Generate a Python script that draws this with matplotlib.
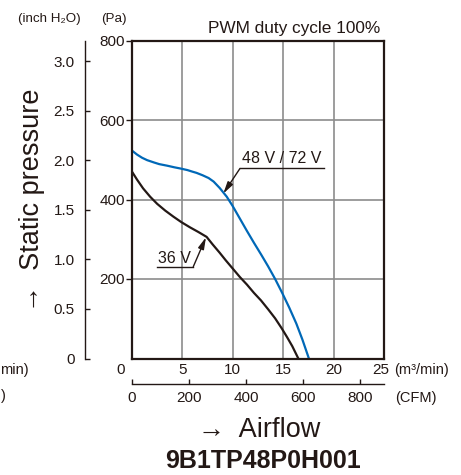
import matplotlib
matplotlib.use("Agg")
import matplotlib.pyplot as plt
from matplotlib.transforms import ScaledTranslation

plt.rcParams['font.family'] = ['Liberation Sans', 'DejaVu Sans']

# ---- data ----
blue_x = [0, 0.5, 1.0, 1.5, 2.2, 2.7, 3.5, 4.2, 4.8, 5.5, 6.0, 6.4, 7.0, 7.6, 8.1,
          8.7, 9.4, 10.0, 10.7, 11.4, 12.1, 12.8, 13.5, 14.2, 14.9, 15.6, 16.3,
          16.9, 17.55]
blue_p = [523, 513, 505, 499, 493, 489, 485, 481, 478, 474, 470, 467, 461, 454, 445,
          429, 407, 383, 352, 321, 291, 262, 232, 200, 165, 128, 88,
          48, 0]
black_x = [0, 0.5, 1.1, 1.8, 2.5, 3.3, 4.1, 4.9, 5.75, 6.6, 7.4, 8.0, 8.7, 9.3,
           10.0, 10.7, 11.4, 12.1, 12.8, 13.5, 14.2, 14.85, 15.4, 15.9, 16.5]
black_p = [470, 450, 428, 407, 389, 372, 357, 343, 330, 318, 306, 287, 266, 247,
           226, 205, 186, 165, 146, 124, 101, 76, 53, 31, 0]
x_ticks = [0, 5, 10, 15, 20, 25]
pa_ticks = [200, 400, 600, 800]
inch_ticks = [0, 0.5, 1.0, 1.5, 2.0, 2.5, 3.0]
cfm_ticks = [0, 200, 400, 600, 800]
label_blue = "48 V / 72 V"
label_black = "36 V"
PA_PER_INCH = 249.09
CFM_PER_M3 = 35.3147

W, H = 461, 475
DARK = '#231815'
BLUE = '#0068B7'
GRID = '#8c8c8c'

fig = plt.figure(figsize=(W / 100, H / 100), dpi=100)

def fx(px):
    return px / W

def fy(py):
    return 1 - py / H

ax = fig.add_axes([fx(132), fy(358.5), 252 / W, 318 / H])
ax.set_xlim(0, 25)
ax.set_ylim(0, 800)
for s in ax.spines.values():
    s.set_color(DARK)
    s.set_linewidth(1.6)
    s.set_zorder(5)
for v in x_ticks[1:-1]:
    ax.axvline(v, color=GRID, lw=1.2, zorder=1)
for v in pa_ticks[:-1]:
    ax.axhline(v, color=GRID, lw=1.2, zorder=1)

ax.plot(black_x, black_p, color=DARK, lw=1.6, zorder=3, solid_capstyle='butt',
        solid_joinstyle='round')
ax.plot(blue_x, blue_p, color=BLUE, lw=1.6, zorder=3, solid_capstyle='butt',
        solid_joinstyle='round')

# Pa axis
ax.set_yticks(pa_ticks)
ax.set_yticklabels([str(v) for v in pa_ticks])
ax.tick_params(axis='y', direction='out', length=4.3, width=1.0, color=DARK,
               pad=1.0, labelsize=11, labelcolor=DARK)
# m3/min axis
ax.set_xticks(x_ticks)
ax.set_xticklabels([str(v) for v in x_ticks])
ax.tick_params(axis='x', length=0, pad=3.5, labelsize=11, labelcolor=DARK)
lbl0 = ax.get_xticklabels()[0]
lbl0.set_transform(lbl0.get_transform() + ScaledTranslation(-11 / 100, 0, fig.dpi_scale_trans))
lbl25 = ax.get_xticklabels()[-1]
lbl25.set_transform(lbl25.get_transform() + ScaledTranslation(-3 / 100, 0, fig.dpi_scale_trans))

# inch H2O axis
ax_in = ax.twinx()
ax_in.set_ylim(0, 800 / PA_PER_INCH)
for k in ['right', 'top', 'bottom']:
    ax_in.spines[k].set_visible(False)
ax_in.spines['left'].set_visible(True)
ax_in.spines['left'].set_position(('outward', 47 * 0.72))
ax_in.spines['left'].set_color(DARK)
ax_in.spines['left'].set_linewidth(1.0)
ax_in.yaxis.set_ticks_position('left')
ax_in.set_yticks(inch_ticks)
ax_in.set_yticklabels(['0' if v == 0 else f'{v:.1f}' for v in inch_ticks])
ax_in.tick_params(axis='y', direction='in', length=3.8, width=1.0, color=DARK,
                  pad=7.5, labelsize=11, labelcolor=DARK)

# CFM axis
sec = ax.secondary_xaxis(-25.5 / 318, functions=(lambda m: m * CFM_PER_M3,
                                                   lambda c: c / CFM_PER_M3))
sec.set_xticks(cfm_ticks)
sec.set_xticklabels([str(v) for v in cfm_ticks])
sec.tick_params(axis='x', direction='in', length=3.8, width=1.0, color=DARK,
                pad=5.0, labelsize=11, labelcolor=DARK)
sec.spines['bottom'].set_color(DARK)
sec.spines['bottom'].set_linewidth(1.0)

# annotations
ax.text(10.88, 492, label_blue, fontsize=11.5, color=DARK, ha='left', va='baseline', zorder=6)
ax.plot([10.71, 19.0], [478, 478], color=DARK, lw=1.0, zorder=4)
ax.annotate('', xy=(9.06, 415), xytext=(10.71, 478),
            arrowprops=dict(arrowstyle='-|>,head_length=0.7,head_width=0.18',
                            lw=1.0, color=DARK, shrinkA=0, shrinkB=0), zorder=6)
ax.text(2.58, 240, label_black, fontsize=11.5, color=DARK, ha='left', va='baseline', zorder=6)
ax.plot([2.45, 6.08], [231, 231], color=DARK, lw=1.0, zorder=4)
ax.annotate('', xy=(7.34, 305), xytext=(6.08, 231),
            arrowprops=dict(arrowstyle='-|>,head_length=0.7,head_width=0.18',
                            lw=1.0, color=DARK, shrinkA=0, shrinkB=0), zorder=6)

# texts
fig.text(fx(380), fy(33), 'PWM duty cycle 100%', fontsize=12.4, color=DARK,
         ha='right', va='baseline')
fig.text(fx(49.5), fy(19), '(inch H₂O)', fontsize=9.6, color=DARK, ha='center', va='center')
fig.text(fx(113.5), fy(19), '(Pa)', fontsize=9.6, color=DARK, ha='center', va='center')
fig.text(fx(394), fy(370), '(m³/min)', fontsize=10.5, color=DARK, ha='left', va='center')
fig.text(fx(395), fy(398), '(CFM)', fontsize=10.5, color=DARK, ha='left', va='center')
# fragments of neighbouring chart's unit labels, cut by the left edge in the reference
fig.text(fx(0.5), fy(370), 'min)', fontsize=10.5, color=DARK, ha='left', va='center')
fig.text(fx(0.5), fy(396), ')', fontsize=10.5, color=DARK, ha='left', va='center')
fig.text(fx(32), fy(200), '→  Static pressure', fontsize=19.5, color=DARK,
         rotation=90, ha='center', va='center')
fig.text(fx(259.5), fy(430), '→  Airflow', fontsize=19.5, color=DARK,
         ha='center', va='center')
fig.text(fx(263), fy(461), '9B1TP48P0H001', fontsize=18, fontweight='bold',
         color=DARK, ha='center', va='center')

fig.savefig('out.png', dpi=100)
